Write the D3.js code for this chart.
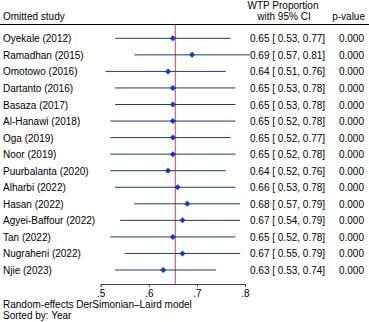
<!DOCTYPE html>
<html>
<head>
<meta charset="utf-8">
<script src="https://cdn.jsdelivr.net/npm/d3@7"></script>
<style>
  body { margin: 0; background: #fff; }
  svg text { font-family: "Liberation Sans", Arial, sans-serif; font-size: 10px; fill: #000; }
</style>
</head>
<body>
<svg id="chart" width="369" height="322"></svg>
<script>
// 数据
var studies = ["Oyekale (2012)", "Ramadhan (2015)", "Omotowo (2016)", "Dartanto (2016)", "Basaza (2017)",
  "Al-Hanawi (2018)", "Oga (2019)", "Noor (2019)", "Puurbalanta (2020)", "Alharbi (2022)",
  "Hasan (2022)", "Agyei-Baffour (2022)", "Tan (2022)", "Nugraheni (2022)", "Njie (2023)"];
var est   = [0.65, 0.69, 0.64, 0.65, 0.65, 0.65, 0.65, 0.65, 0.64, 0.66, 0.68, 0.67, 0.65, 0.67, 0.63];
var lower = [0.53, 0.57, 0.51, 0.53, 0.53, 0.52, 0.52, 0.52, 0.52, 0.53, 0.57, 0.54, 0.52, 0.55, 0.53];
var upper = [0.77, 0.81, 0.76, 0.78, 0.78, 0.78, 0.77, 0.78, 0.76, 0.78, 0.79, 0.79, 0.78, 0.79, 0.74];
var pvalues = ["0.000", "0.000", "0.000", "0.000", "0.000", "0.000", "0.000", "0.000", "0.000", "0.000",
  "0.000", "0.000", "0.000", "0.000", "0.000"];
var overall = 0.655;
var xTicks = [0.5, 0.6, 0.7, 0.8];
var xTickLabels = [".5", ".6", ".7", ".8"];

var svg = d3.select("#chart");

var xScale = d3.scaleLinear().domain([0.5, 0.8]).range([100.7, 245]);
var yScale = d3.scalePoint().domain(studies).range([38.3, 270]);

var f2 = d3.format(".2f");

// 表头
svg.append("text").attr("x", 3).attr("y", 20).text("Omitted study");
svg.append("text").attr("x", 283).attr("y", 9).attr("text-anchor", "middle").text("WTP Proportion");
svg.append("text").attr("x", 284).attr("y", 20).attr("text-anchor", "middle").text("with 95% CI");
svg.append("text").attr("x", 365).attr("y", 20).attr("text-anchor", "end").text("p-value");
svg.append("line").attr("x1", 0).attr("x2", 369).attr("y1", 24.5).attr("y2", 24.5)
  .attr("stroke", "#000").attr("stroke-width", 1);

// 总体效应线
svg.append("line")
  .attr("x1", xScale(overall)).attr("x2", xScale(overall))
  .attr("y1", 25).attr("y2", 284)
  .attr("stroke", "#c8405a").attr("stroke-width", 1);

// 置信区间
svg.selectAll(".ci").data(studies).enter().append("line")
  .attr("class", "ci")
  .attr("x1", function (d, i) { return xScale(lower[i]); })
  .attr("x2", function (d, i) { return xScale(upper[i]); })
  .attr("y1", function (d) { return yScale(d); })
  .attr("y2", function (d) { return yScale(d); })
  .attr("stroke", "#1a3f6a").attr("stroke-width", 1);

// 点估计 (旋转的小方块)
svg.selectAll(".pt").data(studies).enter().append("path")
  .attr("class", "pt")
  .attr("d", d3.symbol().type(d3.symbolSquare).size(18))
  .attr("transform", function (d, i) { return "translate(" + xScale(est[i]) + "," + yScale(d) + ") rotate(45)"; })
  .attr("fill", "#1c2fd8");

// 文字列
svg.selectAll(".name").data(studies).enter().append("text")
  .attr("x", 3).attr("y", function (d) { return yScale(d) + 4; })
  .text(function (d) { return d; });

svg.selectAll(".ciText").data(studies).enter().append("text")
  .attr("x", 250).attr("y", function (d) { return yScale(d) + 4; })
  .text(function (d, i) { return f2(est[i]) + " [ " + f2(lower[i]) + ", " + f2(upper[i]) + "]"; });

svg.selectAll(".pText").data(studies).enter().append("text")
  .attr("x", 364).attr("y", function (d) { return yScale(d) + 4; })
  .attr("text-anchor", "end")
  .text(function (d, i) { return pvalues[i]; });

// x轴
var xAxis = d3.axisBottom(xScale).tickValues(xTicks).tickSize(3)
  .tickFormat(function (d, i) { return xTickLabels[i]; });
var gx = svg.append("g").attr("transform", "translate(0,284)").call(xAxis);
gx.select(".domain").attr("stroke", "#444");
gx.selectAll(".tick line").attr("stroke", "#444");
gx.selectAll("text").attr("font-size", "10px").attr("font-family", "Liberation Sans, Arial, sans-serif")
  .attr("fill", "#000");

// 注释
svg.append("text").attr("x", 3).attr("y", 308).text("Random-effects DerSimonian\u2013Laird model");
svg.append("text").attr("x", 3).attr("y", 318.5).text("Sorted by: Year");
</script>
</body>
</html>
